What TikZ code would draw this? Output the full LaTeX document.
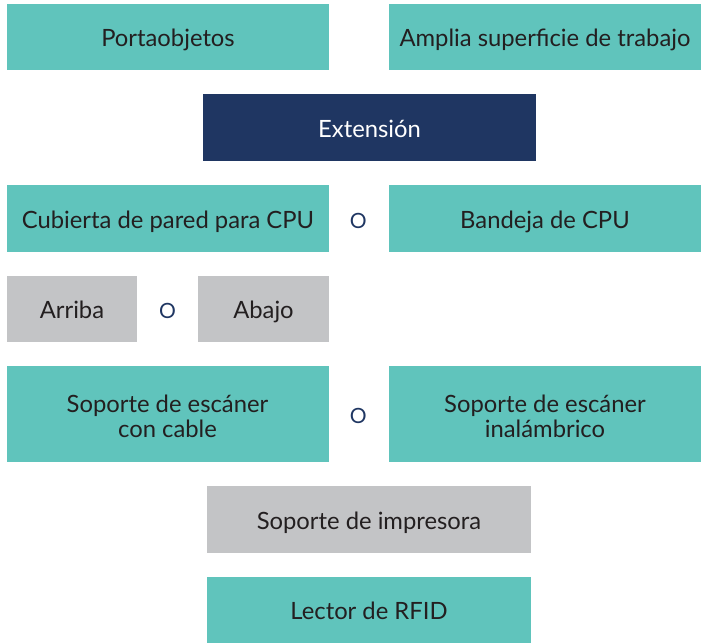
\documentclass[tikz,border=0pt]{standalone}
\usepackage{fontspec}
\setmainfont{Lato}
\definecolor{teal1}{HTML}{60C4BC}
\definecolor{navy1}{HTML}{1F3662}
\definecolor{gray1}{HTML}{C3C4C6}
\definecolor{txt}{HTML}{231F20}
\begin{document}
\begin{tikzpicture}[x=1pt,y=-1pt,
  box/.style={rectangle, inner sep=0pt, draw=none, text=txt, font=\fontsize{23.8}{25}\selectfont, align=center},
  oneline/.style={text height=19pt, text depth=0pt},
  tealbox/.style={box, fill=teal1},
  graybox/.style={box, fill=gray1},
  navybox/.style={box, fill=navy1, text=white},
  orlabel/.style={inner sep=0pt, text=navy1, font=\fontsize{21}{24}\selectfont}]
\useasboundingbox (0,0) rectangle (705,643);
\node[tealbox, oneline, minimum width=322pt, minimum height=66pt] (porta) at (168,37) {Portaobjetos};
\node[tealbox, oneline, minimum width=312pt, minimum height=66pt] (amplia) at (545,37) {Amplia superficie de trabajo};
\node[navybox, oneline, minimum width=333pt, minimum height=67pt] (ext) at (369.5,127.5) {Extensión};
\node[tealbox, oneline, minimum width=322pt, minimum height=67pt] (cub) at (168,218.5) {Cubierta de pared para CPU};
\node[orlabel] (o1) at (358.3,220.5) {O};
\node[tealbox, oneline, minimum width=312pt, minimum height=67pt] (band) at (545,218.5) {Bandeja de CPU};
\node[graybox, oneline, minimum width=130pt, minimum height=66pt] (arriba) at (72,309) {Arriba};
\node[orlabel] (o2) at (167.5,310.7) {O};
\node[graybox, oneline, minimum width=131pt, minimum height=66pt] (abajo) at (263.5,309) {Abajo};
\node[tealbox, minimum width=322pt, minimum height=96pt] (scable) at (168,414) {};
\node[box, anchor=base] (scablet) at (167.5,437) {Soporte de escáner\\con cable};
\node[orlabel] (o3) at (358.3,415.7) {O};
\node[tealbox, minimum width=312pt, minimum height=96pt] (sinal) at (545,414) {};
\node[box, anchor=base] (sinalt) at (545,437) {Soporte de escáner\\inalámbrico};
\node[graybox, oneline, minimum width=324pt, minimum height=67pt] (impr) at (369,519.5) {Soporte de impresora};
\node[tealbox, oneline, minimum width=324pt, minimum height=66pt] (rfid) at (369,610) {Lector de RFID};
\end{tikzpicture}
\end{document}
